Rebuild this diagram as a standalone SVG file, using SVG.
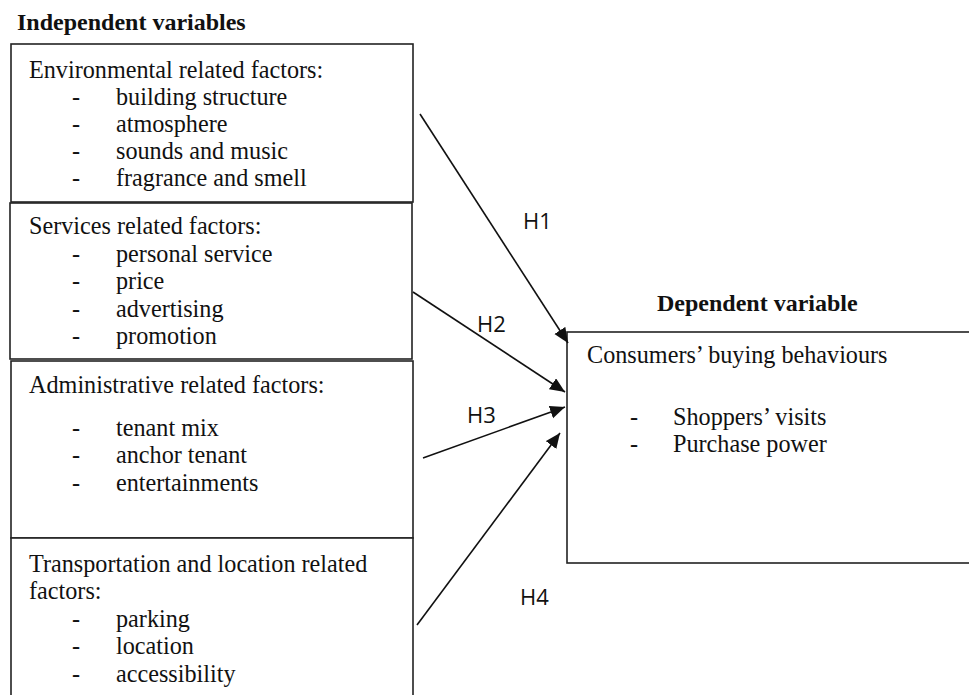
<svg xmlns="http://www.w3.org/2000/svg" width="969" height="695" viewBox="0 0 969 695">
<style>
.box{fill:#fff;stroke:#222;stroke-width:1.6}
.t{font-family:"Liberation Serif","Times New Roman",serif;font-size:24.2px;fill:#111}
.b{font-family:"Liberation Serif","Times New Roman",serif;font-size:24px;font-weight:bold;fill:#111}
.h{font-family:"Open Sans","Liberation Sans",sans-serif;font-size:22px;fill:#111}
.c{stroke:#111;stroke-width:1.6;fill:none;marker-end:url(#ah)}
</style>
<defs>
<marker id="ah" markerUnits="userSpaceOnUse" markerWidth="16" markerHeight="14" refX="15" refY="6.5" orient="auto">
<path d="M0,0 L15,6.5 L0,13 Z" fill="#111"/>
</marker>
</defs>
<rect width="969" height="695" fill="#fff"/>
<text class="b" x="17" y="30">Independent variables</text>

<g id="env">
<rect class="box" x="11" y="44" width="402" height="158"/>
<text class="t" x="29" y="78">Environmental related factors:</text>
<text class="t" x="72" y="105">-</text><text class="t" x="116" y="105">building structure</text>
<text class="t" x="72" y="132">-</text><text class="t" x="116" y="132">atmosphere</text>
<text class="t" x="72" y="159">-</text><text class="t" x="116" y="159">sounds and music</text>
<text class="t" x="72" y="186">-</text><text class="t" x="116" y="186">fragrance and smell</text>
</g>

<g id="services">
<rect class="box" x="10" y="203" width="402" height="156"/>
<text class="t" x="29" y="234">Services related factors:</text>
<text class="t" x="72" y="262">-</text><text class="t" x="116" y="262">personal service</text>
<text class="t" x="72" y="289">-</text><text class="t" x="116" y="289">price</text>
<text class="t" x="72" y="317">-</text><text class="t" x="116" y="317">advertising</text>
<text class="t" x="72" y="344">-</text><text class="t" x="116" y="344">promotion</text>
</g>

<g id="admin">
<rect class="box" x="11" y="361" width="402" height="177"/>
<text class="t" x="29" y="393">Administrative related factors:</text>
<text class="t" x="72" y="436">-</text><text class="t" x="116" y="436">tenant mix</text>
<text class="t" x="72" y="463">-</text><text class="t" x="116" y="463">anchor tenant</text>
<text class="t" x="72" y="491">-</text><text class="t" x="116" y="491">entertainments</text>
</g>

<g id="transport">
<rect class="box" x="11" y="538" width="402" height="200"/>
<text class="t" x="29" y="572">Transportation and location related</text>
<text class="t" x="29" y="599">factors:</text>
<text class="t" x="72" y="627">-</text><text class="t" x="116" y="627">parking</text>
<text class="t" x="72" y="654">-</text><text class="t" x="116" y="654">location</text>
<text class="t" x="72" y="682">-</text><text class="t" x="116" y="682">accessibility</text>
</g>

<g id="dependent">
<text class="b" x="657" y="311">Dependent variable</text>
<rect class="box" x="567" y="332" width="420" height="231"/>
<text class="t" x="587" y="363">Consumers’ buying behaviours</text>
<text class="t" x="630" y="425">-</text><text class="t" x="673" y="425">Shoppers’ visits</text>
<text class="t" x="630" y="452">-</text><text class="t" x="673" y="452">Purchase power</text>
</g>

<g id="connectors">
<line class="c" x1="420" y1="114" x2="568" y2="343"/>
<line class="c" x1="413" y1="292" x2="565" y2="392"/>
<line class="c" x1="423" y1="458" x2="565" y2="407"/>
<line class="c" x1="417" y1="625" x2="560" y2="433"/>
<text class="h" x="523" y="229">H1</text>
<text class="h" x="477" y="332">H2</text>
<text class="h" x="467" y="423">H3</text>
<text class="h" x="520" y="605">H4</text>
</g>
</svg>
